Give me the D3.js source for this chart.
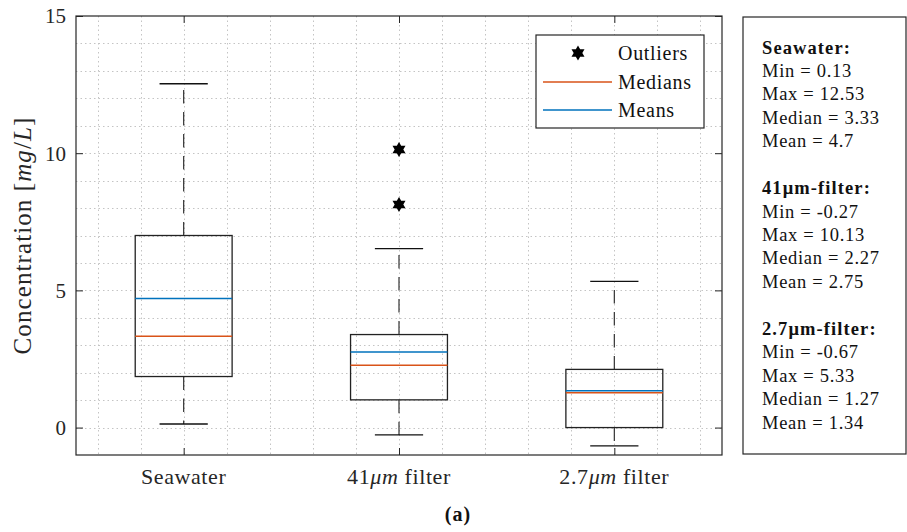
<!DOCTYPE html>
<html>
<head>
<meta charset="utf-8">
<script src="https://cdn.jsdelivr.net/npm/d3@7"></script>
<style>
  html, body { margin: 0; padding: 0; background: #fff; }
  svg { display: block; font-family: "Liberation Serif", "Times New Roman", serif; }
</style>
</head>
<body>
<svg id="chart" width="907" height="532"></svg>
<script>
// ---- data ----
const categories = ["Seawater", "41μm filter", "2.7μm filter"];
const q1 = [1.86, 1.01, 0.0];
const q3 = [7.0, 3.39, 2.12];
const medians = [3.33, 2.27, 1.27];
const means = [4.7, 2.75, 1.34];
const whiskerLow = [0.13, -0.27, -0.67];
const whiskerHigh = [12.53, 6.52, 5.33];
const outliers = [[], [8.13, 10.13], []];
const yTicks = [0, 5, 10, 15];
const legendLabels = ["Outliers", "Medians", "Means"];
const statsText = [
  ["Seawater:", "Min = 0.13", "Max = 12.53", "Median = 3.33", "Mean = 4.7"],
  ["41μm-filter:", "Min = -0.27", "Max = 10.13", "Median = 2.27", "Mean = 2.75"],
  ["2.7μm-filter:", "Min = -0.67", "Max = 5.33", "Median = 1.27", "Mean = 1.34"]
];

// ---- layout ----
const L = 76, R = 722, T = 16, B = 455;
const medColor = "#D95319", meanColor = "#0072BD";
const svg = d3.select("#chart");

const x = d3.scaleLinear().domain([0.5, 3.5]).range([L, R]);
const y = d3.scaleLinear().domain([-1, 15]).range([B, T]);

// grid
const grid = svg.append("g").attr("stroke", "#c4c4c4").attr("stroke-width", 1)
  .attr("stroke-dasharray", "1.5,3");
d3.range(0, 15).forEach(v => {
  grid.append("line").attr("x1", L).attr("x2", R).attr("y1", Math.round(y(v)) + 0.5).attr("y2", Math.round(y(v)) + 0.5);
});
d3.range(6, 35, 2).map(v => v / 10).forEach(v => {
  grid.append("line").attr("y1", T).attr("y2", B).attr("x1", Math.round(x(v)) + 0.5).attr("x2", Math.round(x(v)) + 0.5);
});

// axes
const axStyle = g => {
  g.select(".domain").remove();
  g.selectAll(".tick line").attr("stroke", "#262626");
};
svg.append("g").attr("transform", `translate(${L},0)`)
  .call(d3.axisLeft(y).tickValues(yTicks).tickSize(-7).tickPadding(10))
  .call(axStyle)
  .call(g => g.selectAll("text").attr("font-size", 21).attr("fill", "#262626")
    .attr("font-family", "Liberation Serif").attr("dy", "0.33em"));
svg.append("g").attr("transform", `translate(${R},0)`)
  .call(d3.axisRight(y).tickValues(yTicks).tickSize(-7).tickFormat(""))
  .call(axStyle);
svg.append("g").attr("transform", `translate(0,${B})`)
  .call(d3.axisBottom(x).tickValues([1, 2, 3]).tickSize(-7).tickFormat(""))
  .call(axStyle);
svg.append("g").attr("transform", `translate(0,${T})`)
  .call(d3.axisTop(x).tickValues([1, 2, 3]).tickSize(-7).tickFormat(""))
  .call(axStyle);

svg.append("rect").attr("x", L).attr("y", T).attr("width", R - L).attr("height", B - T)
  .attr("fill", "none").attr("stroke", "#262626").attr("stroke-width", 1.2);

// x labels with italic μm
categories.forEach((c, i) => {
  const t = svg.append("text").attr("x", x(i + 1)).attr("y", 484)
    .attr("text-anchor", "middle").attr("font-size", 22).attr("letter-spacing", 0.6).attr("fill", "#262626");
  const idx = c.indexOf("μm");
  if (idx < 0) { t.text(c); }
  else {
    t.append("tspan").text(c.slice(0, idx));
    t.append("tspan").attr("font-style", "italic").text("μm");
    t.append("tspan").text(c.slice(idx + 2));
  }
});

// y label
const yl = svg.append("text").attr("transform", `translate(31,${(T + B) / 2}) rotate(-90)`)
  .attr("text-anchor", "middle").attr("font-size", 25).attr("letter-spacing", 1.1).attr("fill", "#262626");
yl.append("tspan").text("Concentration [");
yl.append("tspan").attr("font-style", "italic").text("mg");
yl.append("tspan").text("/");
yl.append("tspan").attr("font-style", "italic").text("L");
yl.append("tspan").text("]");

// hexagram
function hexagram(cx, cy, r) {
  const pts = [];
  for (let k = 0; k < 12; k++) {
    const ang = -Math.PI / 2 + k * Math.PI / 6;
    const rr = k % 2 === 0 ? r : r / Math.sqrt(3);
    pts.push([cx + rr * Math.cos(ang), cy + rr * Math.sin(ang)]);
  }
  return "M" + pts.map(p => p.join(",")).join("L") + "Z";
}

// boxes
const bw = 0.225, cw = 0.112;
const boxes = svg.append("g");
categories.forEach((c, i) => {
  const cx = x(i + 1);
  const g = boxes.append("g");
  // whiskers (dash pattern starting at box edges)
  g.append("line").attr("x1", cx).attr("x2", cx).attr("y1", y(q3[i])).attr("y2", y(whiskerHigh[i]))
    .attr("stroke", "#333").attr("stroke-width", 1.2).attr("stroke-dasharray", "13.5,8.5");
  g.append("line").attr("x1", cx).attr("x2", cx).attr("y1", y(q1[i])).attr("y2", y(whiskerLow[i]))
    .attr("stroke", "#333").attr("stroke-width", 1.2).attr("stroke-dasharray", "13.5,8.5");
  // caps
  [whiskerHigh[i], whiskerLow[i]].forEach(v => {
    g.append("line").attr("x1", x(i + 1 - cw)).attr("x2", x(i + 1 + cw)).attr("y1", y(v)).attr("y2", y(v))
      .attr("stroke", "#111").attr("stroke-width", 1.3);
  });
  // box
  g.append("rect").attr("x", x(i + 1 - bw)).attr("width", x(i + 1 + bw) - x(i + 1 - bw))
    .attr("y", y(q3[i])).attr("height", y(q1[i]) - y(q3[i]))
    .attr("fill", "none").attr("stroke", "#222").attr("stroke-width", 1.3);
  // median & mean
  g.append("line").attr("x1", x(i + 1 - bw)).attr("x2", x(i + 1 + bw)).attr("y1", y(medians[i])).attr("y2", y(medians[i]))
    .attr("stroke", medColor).attr("stroke-width", 1.5);
  g.append("line").attr("x1", x(i + 1 - bw)).attr("x2", x(i + 1 + bw)).attr("y1", y(means[i])).attr("y2", y(means[i]))
    .attr("stroke", meanColor).attr("stroke-width", 1.5);
  // outliers
  outliers[i].forEach(v => {
    g.append("path").attr("d", hexagram(cx, y(v), 7.5)).attr("fill", "#000");
  });
});

// legend
const lg = svg.append("g");
lg.append("rect").attr("x", 536).attr("y", 35).attr("width", 168).attr("height", 93)
  .attr("fill", "#fff").attr("stroke", "#262626").attr("stroke-width", 1.2);
const rowsY = [53, 82, 110];
lg.append("path").attr("d", hexagram(578, rowsY[0], 7.5)).attr("fill", "#000");
lg.append("line").attr("x1", 543).attr("x2", 612).attr("y1", rowsY[1]).attr("y2", rowsY[1])
  .attr("stroke", medColor).attr("stroke-width", 1.3);
lg.append("line").attr("x1", 543).attr("x2", 612).attr("y1", rowsY[2]).attr("y2", rowsY[2])
  .attr("stroke", meanColor).attr("stroke-width", 1.3);
legendLabels.forEach((t, k) => {
  lg.append("text").attr("x", 618).attr("y", rowsY[k] + 7).attr("font-size", 20)
    .attr("letter-spacing", 0.7).attr("fill", "#111").text(t);
});

// stats box
svg.append("rect").attr("x", 743).attr("y", 17).attr("width", 163).attr("height", 437)
  .attr("fill", "#fff").attr("stroke", "#262626").attr("stroke-width", 1.2);
const lineH = 23.44;
statsText.forEach((grp, gi) => {
  grp.forEach((s, li) => {
    const row = gi * 6 + li;
    svg.append("text").attr("x", 762).attr("y", 53.5 + row * lineH)
      .attr("font-size", 18.5).attr("fill", "#111")
      .attr("font-weight", li === 0 ? "bold" : "normal")
      .attr("letter-spacing", li === 0 ? 1.1 : 0.7)
      .text(s);
  });
});

// caption
svg.append("text").attr("x", 458).attr("y", 521).attr("text-anchor", "middle")
  .attr("font-size", 20).attr("font-weight", "bold").attr("letter-spacing", 1).attr("fill", "#111").text("(a)");
</script>
</body>
</html>
